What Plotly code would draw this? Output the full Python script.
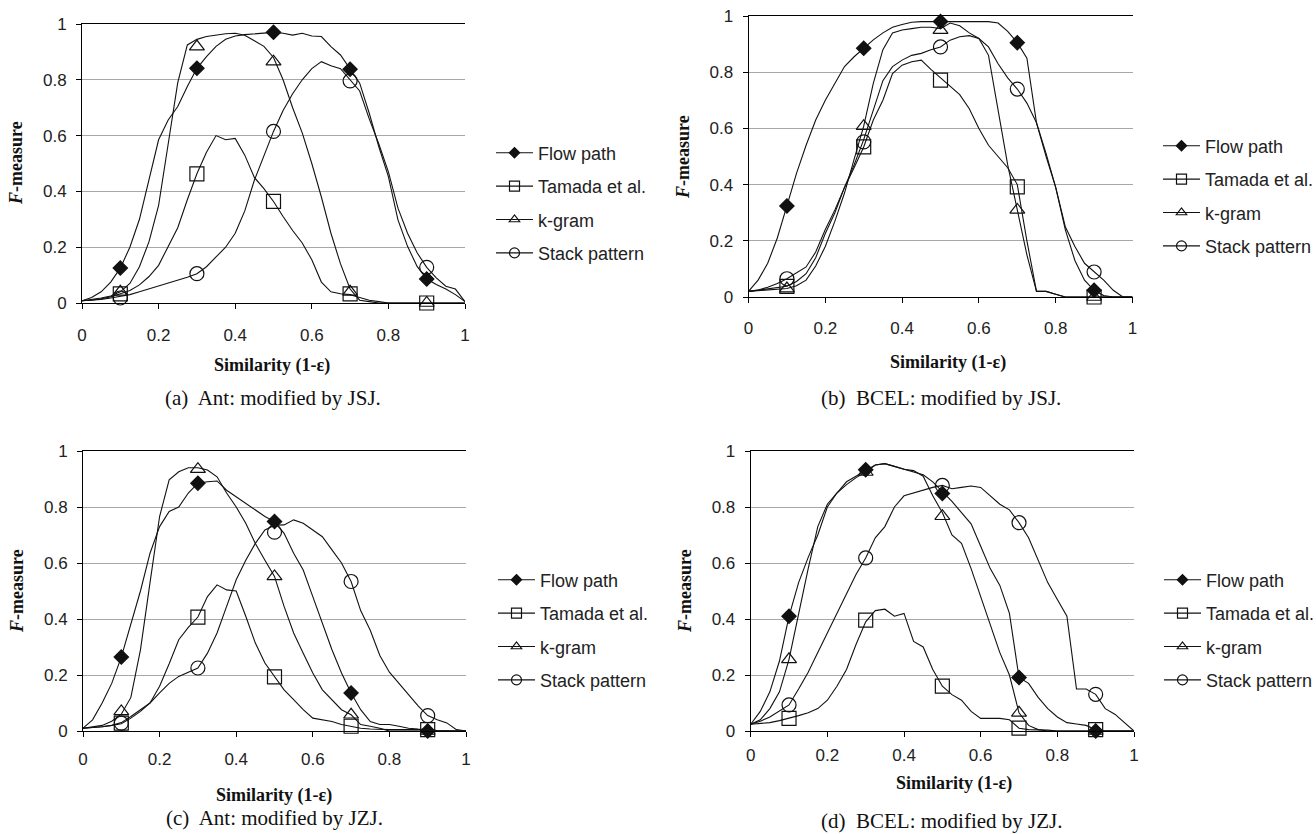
import plotly.graph_objects as go

# ---------------- data ----------------
X = [0, 0.025, 0.05, 0.075, 0.1, 0.125, 0.15, 0.175, 0.2, 0.225, 0.25, 0.275, 0.3, 0.325, 0.35,
     0.375, 0.4, 0.425, 0.45, 0.475, 0.5, 0.525, 0.55, 0.575, 0.6, 0.625, 0.65, 0.675, 0.7, 0.725,
     0.75, 0.775, 0.8, 0.825, 0.85, 0.875, 0.9, 0.925, 0.95, 0.975, 1.0]
MARK_X = [0.1, 0.3, 0.5, 0.7, 0.9]
TICKS = [0, 0.2, 0.4, 0.6, 0.8, 1]
TICK_TEXT = ["0", "0.2", "0.4", "0.6", "0.8", "1"]
SERIES = ["Flow path", "Tamada et al.", "k-gram", "Stack pattern"]
CAPTIONS = ["(a)  Ant: modified by JSJ.", "(b)  BCEL: modified by JSJ.",
            "(c)  Ant: modified by JZJ.", "(d)  BCEL: modified by JZJ."]

# (a) Ant / JSJ
A_flow = [0.008, 0.02, 0.04, 0.075, 0.125, 0.2, 0.3, 0.44, 0.585, 0.656, 0.704, 0.776, 0.841, 0.883, 0.92,
          0.945, 0.957, 0.962, 0.965, 0.968, 0.970, 0.967, 0.96, 0.967, 0.957, 0.955, 0.919, 0.889, 0.838, 0.788,
          0.68, 0.56, 0.453, 0.298, 0.203, 0.131, 0.086, 0.066, 0.05, 0.03, 0.005]
A_tamada = [0.008, 0.01, 0.015, 0.022, 0.033, 0.045, 0.065, 0.095, 0.135, 0.2, 0.27, 0.37, 0.463, 0.54, 0.6,
            0.585, 0.59, 0.53, 0.45, 0.41, 0.364, 0.31, 0.26, 0.215, 0.155, 0.075, 0.04, 0.033, 0.03, 0.02,
            0.01, 0.005, 0, 0, 0, 0, 0, 0, 0, 0, 0]
A_kgram = [0.008, 0.012, 0.018, 0.025, 0.04, 0.07, 0.13, 0.22, 0.35, 0.57, 0.79, 0.925, 0.945, 0.955, 0.96,
           0.965, 0.967, 0.96, 0.94, 0.92, 0.88, 0.8, 0.7, 0.61, 0.5, 0.38, 0.25, 0.14, 0.05, 0.01,
           0.005, 0, 0, 0, 0, 0, 0, 0, 0, 0, 0]
A_stack = [0.008, 0.01, 0.013, 0.018, 0.025, 0.03, 0.04, 0.05, 0.06, 0.07, 0.08, 0.092, 0.105, 0.13, 0.165,
           0.2, 0.25, 0.33, 0.44, 0.53, 0.615, 0.69, 0.75, 0.8, 0.84, 0.865, 0.85, 0.84, 0.80, 0.76,
           0.66, 0.57, 0.47, 0.34, 0.25, 0.18, 0.128, 0.09, 0.06, 0.05, 0.005]
A_marks = {"flow": [0.125, 0.841, 0.970, 0.838, 0.086], "tamada": [0.033, 0.463, 0.364, 0.033, 0],
           "kgram": [0.04, 0.919, 0.865, 0.04, 0], "stack": [0.018, 0.105, 0.615, 0.796, 0.128]}

# (b) BCEL / JSJ
B_flow = [0.02, 0.06, 0.12, 0.21, 0.324, 0.44, 0.54, 0.63, 0.70, 0.76, 0.82, 0.855, 0.885, 0.915, 0.94,
          0.96, 0.97, 0.978, 0.98, 0.98, 0.98, 0.98, 0.98, 0.98, 0.98, 0.98, 0.975, 0.945, 0.905, 0.85,
          0.62, 0.5, 0.39, 0.24, 0.13, 0.06, 0.024, 0.005, 0, 0, 0]
B_tamada = [0.02, 0.024, 0.028, 0.033, 0.038, 0.055, 0.083, 0.14, 0.226, 0.3, 0.39, 0.46, 0.534, 0.63, 0.70,
            0.795, 0.825, 0.837, 0.843, 0.81, 0.78, 0.75, 0.72, 0.67, 0.6, 0.54, 0.5, 0.46, 0.40, 0.2,
            0.02, 0.02, 0.01, 0, 0, 0, 0, 0, 0, 0, 0]
B_kgram = [0.02, 0.022, 0.025, 0.028, 0.03, 0.04, 0.06, 0.11, 0.18, 0.27, 0.37, 0.49, 0.608, 0.76, 0.88,
           0.94, 0.95, 0.955, 0.96, 0.96, 0.955, 0.975, 0.965, 0.94, 0.92, 0.86, 0.66, 0.47, 0.31, 0.15,
           0.02, 0.02, 0.01, 0, 0, 0, 0, 0, 0, 0, 0]
B_stack = [0.02, 0.025, 0.035, 0.048, 0.065, 0.085, 0.107, 0.16, 0.24, 0.31, 0.39, 0.47, 0.56, 0.665, 0.77,
           0.82, 0.843, 0.86, 0.867, 0.88, 0.89, 0.914, 0.926, 0.93, 0.92, 0.89, 0.83, 0.78, 0.74, 0.69,
           0.62, 0.51, 0.39, 0.25, 0.18, 0.12, 0.089, 0.06, 0.024, 0, 0]
B_marks = {"flow": [0.324, 0.885, 0.98, 0.905, 0.024], "tamada": [0.038, 0.534, 0.772, 0.392, 0],
           "kgram": [0.03, 0.608, 0.95, 0.31, 0], "stack": [0.065, 0.552, 0.89, 0.74, 0.089]}

# (c) Ant / JZJ
C_flow = [0.01, 0.04, 0.1, 0.17, 0.264, 0.385, 0.50, 0.635, 0.73, 0.784, 0.80, 0.85, 0.885, 0.89, 0.893,
          0.86, 0.837, 0.813, 0.79, 0.766, 0.748, 0.706, 0.635, 0.575, 0.48, 0.385, 0.29, 0.207, 0.136, 0.076,
          0.034, 0.023, 0.023, 0.017, 0.01, 0.007, 0.005, 0, 0, 0, 0]
C_tamada = [0.01, 0.012, 0.015, 0.02, 0.026, 0.046, 0.07, 0.1, 0.16, 0.24, 0.326, 0.37, 0.407, 0.48, 0.522,
            0.504, 0.5, 0.41, 0.314, 0.243, 0.193, 0.147, 0.112, 0.076, 0.046, 0.04, 0.034, 0.023, 0.017, 0.01,
            0.007, 0.005, 0.005, 0.005, 0.005, 0.005, 0.005, 0.002, 0, 0, 0]
C_kgram = [0.01, 0.015, 0.02, 0.035, 0.06, 0.12, 0.29, 0.53, 0.766, 0.897, 0.926, 0.94, 0.94, 0.932, 0.908,
           0.85, 0.80, 0.742, 0.67, 0.61, 0.552, 0.445, 0.35, 0.278, 0.207, 0.147, 0.112, 0.076, 0.058, 0.023,
           0.017, 0.01, 0, 0, 0, 0, 0, 0, 0, 0, 0]
C_stack = [0.01, 0.012, 0.015, 0.02, 0.03, 0.052, 0.076, 0.1, 0.136, 0.17, 0.195, 0.21, 0.225, 0.278, 0.35,
           0.445, 0.54, 0.61, 0.67, 0.718, 0.735, 0.736, 0.754, 0.742, 0.718, 0.694, 0.647, 0.6, 0.534, 0.43,
           0.36, 0.27, 0.21, 0.17, 0.13, 0.09, 0.055, 0.04, 0.029, 0.005, 0]
C_marks = {"flow": [0.264, 0.885, 0.748, 0.136, 0], "tamada": [0.028, 0.407, 0.193, 0.017, 0.005],
           "kgram": [0.07, 0.935, 0.552, 0.058, 0], "stack": [0.028, 0.225, 0.71, 0.534, 0.055]}

# (d) BCEL / JZJ
D_flow = [0.024, 0.07, 0.14, 0.25, 0.41, 0.53, 0.62, 0.7, 0.8, 0.85, 0.89, 0.91, 0.933, 0.95, 0.955,
          0.945, 0.935, 0.925, 0.915, 0.89, 0.855, 0.82, 0.78, 0.74, 0.66, 0.58, 0.52, 0.42, 0.191, 0.17,
          0.12, 0.08, 0.05, 0.03, 0.025, 0.02, 0.005, 0, 0, 0, 0]
D_tamada = [0.024, 0.027, 0.03, 0.037, 0.045, 0.055, 0.065, 0.08, 0.11, 0.16, 0.22, 0.31, 0.39, 0.43, 0.435,
            0.41, 0.42, 0.32, 0.3, 0.22, 0.16, 0.13, 0.11, 0.07, 0.045, 0.045, 0.045, 0.04, 0.01, 0.005,
            0.005, 0.003, 0, 0, 0, 0, 0, 0, 0, 0, 0]
D_kgram = [0.024, 0.04, 0.08, 0.14, 0.256, 0.42, 0.58, 0.73, 0.81, 0.85, 0.88, 0.905, 0.925, 0.95, 0.955,
           0.945, 0.935, 0.93, 0.91, 0.84, 0.78, 0.7, 0.67, 0.58, 0.48, 0.38, 0.28, 0.2, 0.065, 0.02,
           0.005, 0, 0, 0, 0, 0, 0, 0, 0, 0, 0]
D_stack = [0.024, 0.035, 0.05, 0.07, 0.093, 0.15, 0.21, 0.28, 0.35, 0.42, 0.49, 0.56, 0.618, 0.69, 0.73,
           0.8, 0.84, 0.85, 0.86, 0.87, 0.877, 0.865, 0.87, 0.875, 0.87, 0.84, 0.81, 0.79, 0.744, 0.69,
           0.61, 0.53, 0.47, 0.41, 0.15, 0.15, 0.131, 0.08, 0.06, 0.03, 0]
D_marks = {"flow": [0.41, 0.933, 0.848, 0.191, 0], "tamada": [0.045, 0.396, 0.16, 0.01, 0.005],
           "kgram": [0.256, 0.925, 0.767, 0.065, 0], "stack": [0.093, 0.618, 0.877, 0.744, 0.131]}

PANELS = [
    {"curves": [A_flow, A_tamada, A_kgram, A_stack], "marks": A_marks},
    {"curves": [B_flow, B_tamada, B_kgram, B_stack], "marks": B_marks},
    {"curves": [C_flow, C_tamada, C_kgram, C_stack], "marks": C_marks},
    {"curves": [D_flow, D_tamada, D_kgram, D_stack], "marks": D_marks},
]

# ---------------- layout geometry (pixels in a 1316 x 834 canvas) ----------------
W, H = 1316, 834
BOX = [(82, 465, 24, 303), (748.5, 1132.5, 16, 297), (83, 466, 451, 731), (750.7, 1134, 451, 731)]
LEGEND_POS = [(491, 203), (1158, 196), (493, 630), (1159, 630)]
YTITLE_POS = [(16, 163), (683, 157), (17, 591), (685, 591)]
XTITLE_POS = [(272, 366), (948, 362), (274, 795), (954, 783)]
CAPTION_POS = [(273, 398), (941, 398), (274, 818), (942, 821)]
TICK_STANDOFF = [12, 11, 8, 4]

KEYS = ["flow", "tamada", "kgram", "stack"]
SYMBOLS = ["diamond", "square-open", "triangle-up-open", "circle-open"]
SIZES = [11, 14, 13, 14]
LEG_SIZES = [8, 10, 9, 10]
SANS = "Liberation Sans, Arial, sans-serif"
SERIF = "Liberation Serif, Times New Roman, serif"
INK = "#111111"

fig = go.Figure()
layout = dict(width=W, height=H, paper_bgcolor="white", plot_bgcolor="white",
              margin=dict(l=0, r=0, t=0, b=0, autoexpand=False), showlegend=True,
              annotations=[])

for i, (panel, box) in enumerate(zip(PANELS, BOX)):
    n = "" if i == 0 else str(i + 1)
    xa, ya = "x" + n, "y" + n
    leg = "legend" + n
    x0, x1, yt, yb = box
    layout["xaxis" + n] = dict(
        domain=[x0 / W, x1 / W], anchor=ya, range=[0, 1], tickmode="array", tickvals=TICKS,
        ticktext=TICK_TEXT, showline=True, linecolor="black", linewidth=1, mirror=True,
        ticks="outside", ticklen=5, tickcolor="black", showgrid=False, zeroline=False,
        ticklabelstandoff=TICK_STANDOFF[i],
        tickfont=dict(family=SANS, size=17, color="#222"), fixedrange=True)
    layout["yaxis" + n] = dict(
        domain=[1 - yb / H, 1 - yt / H], anchor=xa, range=[0, 1], tickmode="array", tickvals=TICKS,
        ticktext=TICK_TEXT, showline=True, linecolor="black", linewidth=1,
        ticks="outside", ticklen=5, tickcolor="black", showgrid=True, gridcolor="#a8a8a8",
        gridwidth=1, zeroline=False, ticklabelstandoff=6,
        tickfont=dict(family=SANS, size=17, color="#222"), fixedrange=True)
    lx, ly = LEGEND_POS[i]
    layout[leg] = dict(x=lx / W, y=1 - ly / H, xanchor="left", yanchor="middle",
                       bgcolor="rgba(0,0,0,0)", borderwidth=0, tracegroupgap=7,
                       itemsizing="trace", traceorder="grouped", itemwidth=37,
                       font=dict(family=SANS, size=18, color="#222"))

    for j, (curve, key) in enumerate(zip(panel["curves"], KEYS)):
        fig.add_trace(go.Scatter(x=X, y=curve, mode="lines", xaxis=xa, yaxis=ya,
                                 line=dict(color=INK, width=1.1), showlegend=False,
                                 hoverinfo="skip"))
    for j, key in enumerate(KEYS):
        fig.add_trace(go.Scatter(x=MARK_X, y=panel["marks"][key], mode="markers", xaxis=xa, yaxis=ya,
                                 marker=dict(symbol=SYMBOLS[j], size=SIZES[j], color=INK,
                                             line=dict(color=INK, width=1.2)),
                                 cliponaxis=False, showlegend=False, name=SERIES[j]))
    for j, key in enumerate(KEYS):
        fig.add_trace(go.Scatter(x=[None], y=[None], mode="lines+markers", xaxis=xa, yaxis=ya,
                                 name=SERIES[j], legend=leg, legendgroup=f"{i}-{j}",
                                 line=dict(color=INK, width=1.1),
                                 marker=dict(symbol=SYMBOLS[j], size=LEG_SIZES[j], color=INK,
                                             line=dict(color=INK, width=1.2))))

    tx, ty = YTITLE_POS[i]
    layout["annotations"].append(dict(
        text="<b><i>F</i>-measure</b>", x=tx / W, y=1 - ty / H, xref="paper", yref="paper",
        showarrow=False, textangle=-90, xanchor="center", yanchor="middle",
        font=dict(family=SERIF, size=18, color="#111")))
    tx, ty = XTITLE_POS[i]
    layout["annotations"].append(dict(
        text="<b>Similarity (1-ε)</b>", x=tx / W, y=1 - ty / H, xref="paper", yref="paper",
        showarrow=False, xanchor="center", yanchor="middle",
        font=dict(family=SERIF, size=18, color="#111")))
    tx, ty = CAPTION_POS[i]
    layout["annotations"].append(dict(
        text=CAPTIONS[i], x=tx / W, y=1 - ty / H, xref="paper", yref="paper",
        showarrow=False, xanchor="center", yanchor="middle",
        font=dict(family=SERIF, size=21, color="#111")))

fig.update_layout(**layout)
fig.write_html("out.html", config={"displayModeBar": False},
               post_script="document.body.style.margin='0';document.body.style.overflow='hidden';")
